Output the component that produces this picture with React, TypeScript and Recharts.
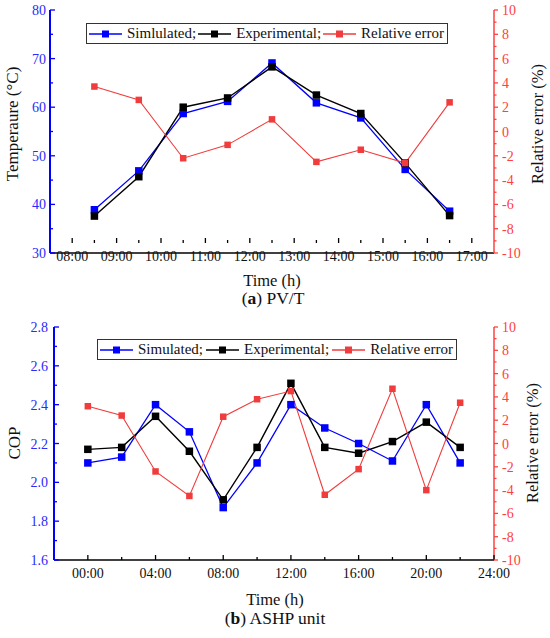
import React from 'react';
import { LineChart, Line, XAxis, YAxis } from 'recharts';

const FONT = "'Liberation Serif', 'DejaVu Serif', serif";

// ---------- (a) PV/T ----------
const pvtHours = [8.5, 9.5, 10.5, 11.5, 12.5, 13.5, 14.5, 15.5, 16.5];
const pvtSimulated = [38.9, 46.9, 58.7, 61.2, 69.1, 60.9, 57.8, 47.2, 38.6];
const pvtExperimental = [37.6, 45.7, 60.0, 61.9, 68.3, 62.5, 58.7, 48.5, 37.7];
const pvtError = [3.7, 2.6, -2.2, -1.1, 1.0, -2.5, -1.5, -2.6, 2.4];
const pvtTimeMajor = [8, 9, 10, 11, 12, 13, 14, 15, 16, 17];
const pvtTimeMinor = [8.5, 9.5, 10.5, 11.5, 12.5, 13.5, 14.5, 15.5, 16.5];
const pvtTempMajor = [30, 40, 50, 60, 70, 80];
const pvtTempMinor = [35, 45, 55, 65, 75];

// ---------- (b) ASHP unit ----------
const ashpHours = [0, 2, 4, 6, 8, 10, 12, 14, 16, 18, 20, 22];
const ashpSimulated = [2.10, 2.13, 2.40, 2.26, 1.87, 2.10, 2.40, 2.28, 2.20, 2.11, 2.40, 2.10];
const ashpExperimental = [2.17, 2.18, 2.34, 2.16, 1.91, 2.18, 2.51, 2.18, 2.15, 2.21, 2.31, 2.18];
const ashpError = [3.2, 2.4, -2.4, -4.5, 2.3, 3.8, 4.5, -4.4, -2.2, 4.7, -4.0, 3.5];
const ashpTimeMajor = [0, 4, 8, 12, 16, 20, 24];
const ashpTimeMinor = [2, 6, 10, 14, 18, 22];
const copMajor = [1.6, 1.8, 2.0, 2.2, 2.4, 2.6, 2.8];
const copMinor = [1.7, 1.9, 2.1, 2.3, 2.5, 2.7];

// shared error axis
const errMajor = [-10, -8, -6, -4, -2, 0, 2, 4, 6, 8, 10];
const errMinor = [-9, -7, -5, -3, -1, 1, 3, 5, 7, 9];

const BLUE = '#0000ff';
const BLUE_TXT = '#2a2aff';
const RED = '#f03c3c';
const RED_TXT = '#ff4040';
const BLACK = '#000000';

const pvtData = pvtHours.map((h, i) => ({
  t: h,
  sim: pvtSimulated[i],
  exp: pvtExperimental[i],
  err: pvtError[i],
}));
const ashpData = ashpHours.map((h, i) => ({
  t: h,
  sim: ashpSimulated[i],
  exp: ashpExperimental[i],
  err: ashpError[i],
}));

const hh = (v: number) => `${String(Math.round(v)).padStart(2, '0')}:00`;

const isIn = (arr: number[], v: number) => arr.some((m) => Math.abs(m - v) < 1e-6);

type Side = 'left' | 'right' | 'bottom' | 'top';
function makeTick(o: {
  side: Side;
  axisPos: number;
  major: number[];
  color: string;
  lineColor: string;
  majorLen: number;
  minorLen: number;
  gap: number;
  fmt?: (v: number) => string;
  showLabel: boolean;
}) {
  return (props: any) => {
    const { x, y, payload } = props;
    const v = payload.value;
    const major = isIn(o.major, v);
    const len = major ? o.majorLen : o.minorLen;
    const label = o.fmt ? o.fmt(v) : String(v);
    const textStyle = { fontFamily: FONT, fontSize: 14 };
    if (o.side === 'left') {
      return (
        <g>
          <line x1={o.axisPos} x2={o.axisPos + len} y1={y} y2={y} stroke={o.lineColor} strokeWidth={1.3} />
          {major && o.showLabel && (
            <text x={o.axisPos - o.gap} y={y + 5} textAnchor="end" fill={o.color} style={textStyle}>
              {label}
            </text>
          )}
        </g>
      );
    }
    if (o.side === 'right') {
      return (
        <g>
          <line x1={o.axisPos} x2={o.axisPos + len} y1={y} y2={y} stroke={o.lineColor} strokeWidth={1.3} />
          {major && o.showLabel && (
            <text x={o.axisPos + o.gap} y={y + 5} textAnchor="start" fill={o.color} style={textStyle}>
              {label}
            </text>
          )}
        </g>
      );
    }
    if (o.side === 'bottom') {
      return (
        <g>
          <line x1={x} x2={x} y1={o.axisPos} y2={o.axisPos - len} stroke={o.lineColor} strokeWidth={1.3} />
          {major && o.showLabel && (
            <text x={x} y={o.axisPos + o.gap} textAnchor="middle" fill={o.color} style={textStyle}>
              {label}
            </text>
          )}
        </g>
      );
    }
    return (
      <g>
        <line x1={x} x2={x} y1={o.axisPos} y2={o.axisPos + len} stroke={o.lineColor} strokeWidth={1.3} />
      </g>
    );
  };
}

const squareDot = (fill: string, size: number) => (props: any) => {
  const { cx, cy, index } = props;
  if (cx == null || cy == null) return <g key={`d${index}`} />;
  return <rect key={`d${index}`} x={cx - size / 2} y={cy - size / 2} width={size} height={size} fill={fill} />;
};

function LegendSample({ color }: { color: string }) {
  return (
    <svg width={35} height={12} style={{ display: 'block', flex: '0 0 auto' }}>
      <line x1={1} x2={34} y1={6} y2={6} stroke={color} strokeWidth={1.3} />
      <rect x={14} y={2.5} width={7} height={7} fill={color} />
    </svg>
  );
}

function LegendBox({ left, top, width, simLabel }: { left: number; top: number; width: number; simLabel: string }) {
  const items = [
    { color: BLUE, text: simLabel },
    { color: BLACK, text: 'Experimental;' },
    { color: RED, text: 'Relative error' },
  ];
  return (
    <div
      style={{
        position: 'absolute',
        left,
        top,
        width,
        height: 21,
        boxSizing: 'border-box',
        border: '1.3px solid #333',
        background: '#fff',
        display: 'flex',
        alignItems: 'center',
        justifyContent: 'space-between',
        padding: '0 3px 0 1px',
        fontFamily: FONT,
        fontSize: 15,
        color: '#111',
        whiteSpace: 'nowrap',
      }}
    >
      {items.map((it) => (
        <div key={it.text} style={{ display: 'flex', alignItems: 'center' }}>
          <LegendSample color={it.color} />
          <span style={{ marginLeft: 4 }}>{it.text}</span>
        </div>
      ))}
    </div>
  );
}

function Title({ x, y, text, rotate, size = 16 }: { x: number; y: number; text: React.ReactNode; rotate?: boolean; size?: number }) {
  return (
    <div
      style={{
        position: 'absolute',
        left: x,
        top: y,
        transform: `translate(-50%, -50%)${rotate ? ' rotate(-90deg)' : ''}`,
        whiteSpace: 'nowrap',
        fontFamily: FONT,
        fontSize: size,
        color: '#111',
        lineHeight: 0.9,
      }}
    >
      {text}
    </div>
  );
}

// layout constants for the two panels
const A_LEFT = 50;
const A_RIGHT = 494;
const A_TOP = 10;
const A_BOTTOM = 243;
const B_OFFSET = 310;
const B_LEFT = 54;
const B_RIGHT = 494;
const B_TOP = 17; // within panel
const B_BOTTOM = 250; // within panel

export default function App() {
  return (
    <div
      style={{
        position: 'absolute',
        left: 0,
        top: 0,
        width: 550,
        height: 638,
        background: '#fff',
        overflow: 'hidden',
        fontFamily: FONT,
      }}
    >
      {/* Panel (a) */}
      <div style={{ position: 'absolute', left: 0, top: 0 }}>
        <LineChart width={550} height={300} data={pvtData} margin={{ top: A_TOP, right: 0, left: 0, bottom: 0 }}>
          <XAxis
            xAxisId="b"
            dataKey="t"
            type="number"
            domain={[7.5, 17.5]}
            ticks={[...pvtTimeMajor, ...pvtTimeMinor].sort((a, b) => a - b)}
            interval={0}
            height={300 - A_BOTTOM - A_TOP}
            axisLine={{ stroke: BLACK, strokeWidth: 1.5 }}
            tickLine={false}
            tick={makeTick({ side: 'bottom', axisPos: A_BOTTOM, major: pvtTimeMajor, color: '#111', lineColor: BLACK, majorLen: 5, minorLen: 3, gap: 18, fmt: hh, showLabel: true })}
            allowDataOverflow
          />
          <XAxis
            xAxisId="t"
            dataKey="t"
            type="number"
            orientation="top"
            domain={[7.5, 17.5]}
            ticks={[...pvtTimeMajor, ...pvtTimeMinor].sort((a, b) => a - b)}
            interval={0}
            height={0}
            axisLine={{ stroke: BLACK, strokeWidth: 1.5 }}
            tickLine={false}
            tick={makeTick({ side: 'top', axisPos: A_TOP, major: pvtTimeMajor, color: '#111', lineColor: BLACK, majorLen: 5, minorLen: 3, gap: 0, showLabel: false })}
            allowDataOverflow
          />
          <YAxis
            yAxisId="l"
            orientation="left"
            width={A_LEFT}
            domain={[30, 80]}
            ticks={[...pvtTempMajor, ...pvtTempMinor].sort((a, b) => a - b)}
            interval={0}
            axisLine={{ stroke: BLUE, strokeWidth: 2 }}
            tickLine={false}
            tick={makeTick({ side: 'left', axisPos: A_LEFT, major: pvtTempMajor, color: BLUE_TXT, lineColor: BLUE, majorLen: 5, minorLen: 3, gap: 4, showLabel: true })}
            allowDataOverflow
          />
          <YAxis
            yAxisId="r"
            orientation="right"
            width={550 - A_RIGHT}
            domain={[-10, 10]}
            ticks={[...errMajor, ...errMinor].sort((a, b) => a - b)}
            interval={0}
            axisLine={{ stroke: RED_TXT, strokeWidth: 1.5 }}
            tickLine={false}
            tick={makeTick({ side: 'right', axisPos: A_RIGHT, major: errMajor, color: RED_TXT, lineColor: RED_TXT, majorLen: 4, minorLen: 2.5, gap: 8, showLabel: true })}
            allowDataOverflow
          />
          <Line xAxisId="b" yAxisId="l" dataKey="sim" stroke={BLUE} strokeWidth={1.3} dot={squareDot(BLUE, 7.5)} activeDot={false} isAnimationActive={false} />
          <Line xAxisId="b" yAxisId="l" dataKey="exp" stroke={BLACK} strokeWidth={1.4} dot={squareDot(BLACK, 7.5)} activeDot={false} isAnimationActive={false} />
          <Line xAxisId="b" yAxisId="r" dataKey="err" stroke={RED} strokeWidth={1.1} dot={squareDot(RED, 6.5)} activeDot={false} isAnimationActive={false} />
        </LineChart>
      </div>
      <LegendBox left={86} top={23} width={362} simLabel="Simlulated;" />
      <Title x={13} y={124} text="Temperaure (°C)" rotate size={17} />
      <Title x={538} y={124} text="Relative error (%)" rotate size={16.5} />
      <Title x={272} y={281} text="Time (h)" size={16.5} />
      <Title x={273} y={299} text={<span>(<b>a</b>) PV/T</span>} size={17.5} />

      {/* Panel (b) */}
      <div style={{ position: 'absolute', left: 0, top: B_OFFSET }}>
        <LineChart width={550} height={300} data={ashpData} margin={{ top: B_TOP, right: 0, left: 0, bottom: 0 }}>
          <XAxis
            xAxisId="b"
            dataKey="t"
            type="number"
            domain={[-2, 24]}
            ticks={[...ashpTimeMajor, ...ashpTimeMinor].sort((a, b) => a - b)}
            interval={0}
            height={300 - B_BOTTOM}
            axisLine={{ stroke: BLACK, strokeWidth: 1.5 }}
            tickLine={false}
            tick={makeTick({ side: 'bottom', axisPos: B_BOTTOM, major: ashpTimeMajor, color: '#111', lineColor: BLACK, majorLen: 5, minorLen: 3, gap: 18, fmt: hh, showLabel: true })}
            allowDataOverflow
          />
          <XAxis
            xAxisId="t"
            dataKey="t"
            type="number"
            orientation="top"
            domain={[-2, 24]}
            ticks={[...ashpTimeMajor, ...ashpTimeMinor].sort((a, b) => a - b)}
            interval={0}
            height={0}
            axisLine={{ stroke: BLACK, strokeWidth: 1.5 }}
            tickLine={false}
            tick={makeTick({ side: 'top', axisPos: B_TOP, major: ashpTimeMajor, color: '#111', lineColor: BLACK, majorLen: 5, minorLen: 3, gap: 0, showLabel: false })}
            allowDataOverflow
          />
          <YAxis
            yAxisId="l"
            orientation="left"
            width={B_LEFT}
            domain={[1.6, 2.8]}
            ticks={[...copMajor, ...copMinor].sort((a, b) => a - b)}
            interval={0}
            axisLine={{ stroke: BLUE, strokeWidth: 2 }}
            tickLine={false}
            tick={makeTick({ side: 'left', axisPos: B_LEFT, major: copMajor, color: BLUE_TXT, lineColor: BLUE, majorLen: 5, minorLen: 3, gap: 6, fmt: (v) => v.toFixed(1), showLabel: true })}
            allowDataOverflow
          />
          <YAxis
            yAxisId="r"
            orientation="right"
            width={550 - B_RIGHT}
            domain={[-10, 10]}
            ticks={[...errMajor, ...errMinor].sort((a, b) => a - b)}
            interval={0}
            axisLine={{ stroke: RED_TXT, strokeWidth: 1.5 }}
            tickLine={false}
            tick={makeTick({ side: 'right', axisPos: B_RIGHT, major: errMajor, color: RED_TXT, lineColor: RED_TXT, majorLen: 4, minorLen: 2.5, gap: 8, showLabel: true })}
            allowDataOverflow
          />
          <Line xAxisId="b" yAxisId="l" dataKey="sim" stroke={BLUE} strokeWidth={1.3} dot={squareDot(BLUE, 7.5)} activeDot={false} isAnimationActive={false} />
          <Line xAxisId="b" yAxisId="l" dataKey="exp" stroke={BLACK} strokeWidth={1.4} dot={squareDot(BLACK, 7.5)} activeDot={false} isAnimationActive={false} />
          <Line xAxisId="b" yAxisId="r" dataKey="err" stroke={RED} strokeWidth={1.1} dot={squareDot(RED, 6.5)} activeDot={false} isAnimationActive={false} />
        </LineChart>
      </div>
      <LegendBox left={97} top={339} width={360} simLabel="Simulated;" />
      <Title x={15} y={443} text="COP" rotate size={17} />
      <Title x={533} y={443} text="Relative error (%)" rotate size={16.5} />
      <Title x={275} y={600} text="Time (h)" size={16.5} />
      <Title x={275} y={619} text={<span>(<b>b</b>) ASHP unit</span>} size={17.5} />
    </div>
  );
}
